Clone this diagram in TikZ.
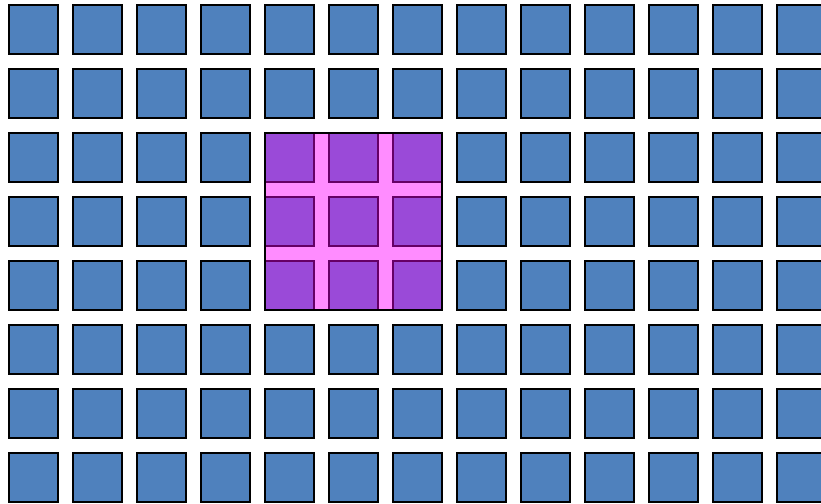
\documentclass[tikz,border=0pt]{standalone}
\usepackage{tikz}

\definecolor{cellblue}{HTML}{4F81BD}
\definecolor{cellpurple}{HTML}{9A4AD8}
\definecolor{gappink}{HTML}{FF8CFF}
\definecolor{edgepurple}{HTML}{660066}

\tikzset{
  cell/.style={draw=black,fill=cellblue,line width=2pt},
  pickcell/.style={draw=edgepurple,fill=cellpurple,line width=2pt},
  pickframe/.style={draw=black,line width=2pt}
}

\begin{document}
\begin{tikzpicture}[x=1pt,y=-1pt]

%frame
\clip (0,0) rectangle (821,503);

%blue cells
\foreach \i in {0,...,12}{
  \foreach \j in {0,...,7}{
    \pgfmathtruncatemacro{\inside}{(\i>3)*(\i<7)*(\j>1)*(\j<5)}
    \ifnum\inside=0
      \draw[cell] (8.5+64*\i,4.7+64*\j) rectangle ++(49,49);
    \fi
  }
}

%picked block
\fill[gappink] (264.5,132.7) rectangle (441.5,309.7);
\foreach \i in {4,5,6}{
  \foreach \j in {2,3,4}{
    \draw[pickcell] (8.5+64*\i,4.7+64*\j) rectangle ++(49,49);
  }
}
\draw[pickframe] (264.5,132.7) rectangle (441.5,309.7);

\end{tikzpicture}
\end{document}
